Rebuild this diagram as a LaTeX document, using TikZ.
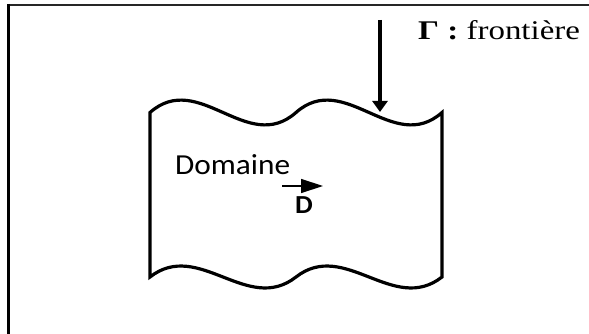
\documentclass[tikz,border=0pt]{standalone}
\usepackage{fontspec}
\usepackage{tikz}
\usetikzlibrary{arrows.meta,positioning}
\newfontfamily\gamfont[FakeStretch=1.22]{Liberation Serif}
\newfontfamily\domfont[FakeStretch=1.08]{Carlito}

\begin{document}
\begin{tikzpicture}[x=1pt,y=-1pt]
            \useasboundingbox (0,0) rectangle (589,334);
            \draw[color=black!85,line width=2pt] (589,5) -- (8.5,5);
            \draw[color=black,line width=3pt] (8.5,4) -- (8.5,334);
            \draw[color=black,line width=3.2pt] (150,112.5)
                .. controls (198.7,69.5) and (247.3,155.5) .. (296,112.5)
                .. controls (344.7,69.5) and (393.3,155.5) .. (442,112.5)
                -- (442,277)
                .. controls (393.3,315) and (344.7,239) .. (296,277)
                .. controls (247.3,315) and (198.7,239) .. (150,277) -- cycle;
            \coordinate (f1) at (380,20);
            \coordinate (f2) at (380,112);
            \draw[color=black,line width=4pt,-{Triangle[length=11pt,width=15pt]}] (f1) -- (f2);
            \node[anchor=base west,inner sep=0pt,font=\gamfont\fontsize{27}{30}\selectfont] (gam) at (418,40) {\textbf{Γ :} frontière};
            \node[anchor=base west,inner sep=0pt,font=\domfont\fontsize{29}{32}\selectfont] (dom) at (175,175) {Domaine};
            \coordinate (v1) at (282,186);
            \coordinate (v2) at (323,186);
            \draw[color=black,line width=1.3pt,-{Triangle[length=22pt,width=14pt]}] (v1) -- (v2);
            \node[anchor=base west,inner sep=0pt,font=\domfont\bfseries\fontsize{26}{28}\selectfont] (vecD) at (295,213) {D};
        \end{tikzpicture}
\end{document}
